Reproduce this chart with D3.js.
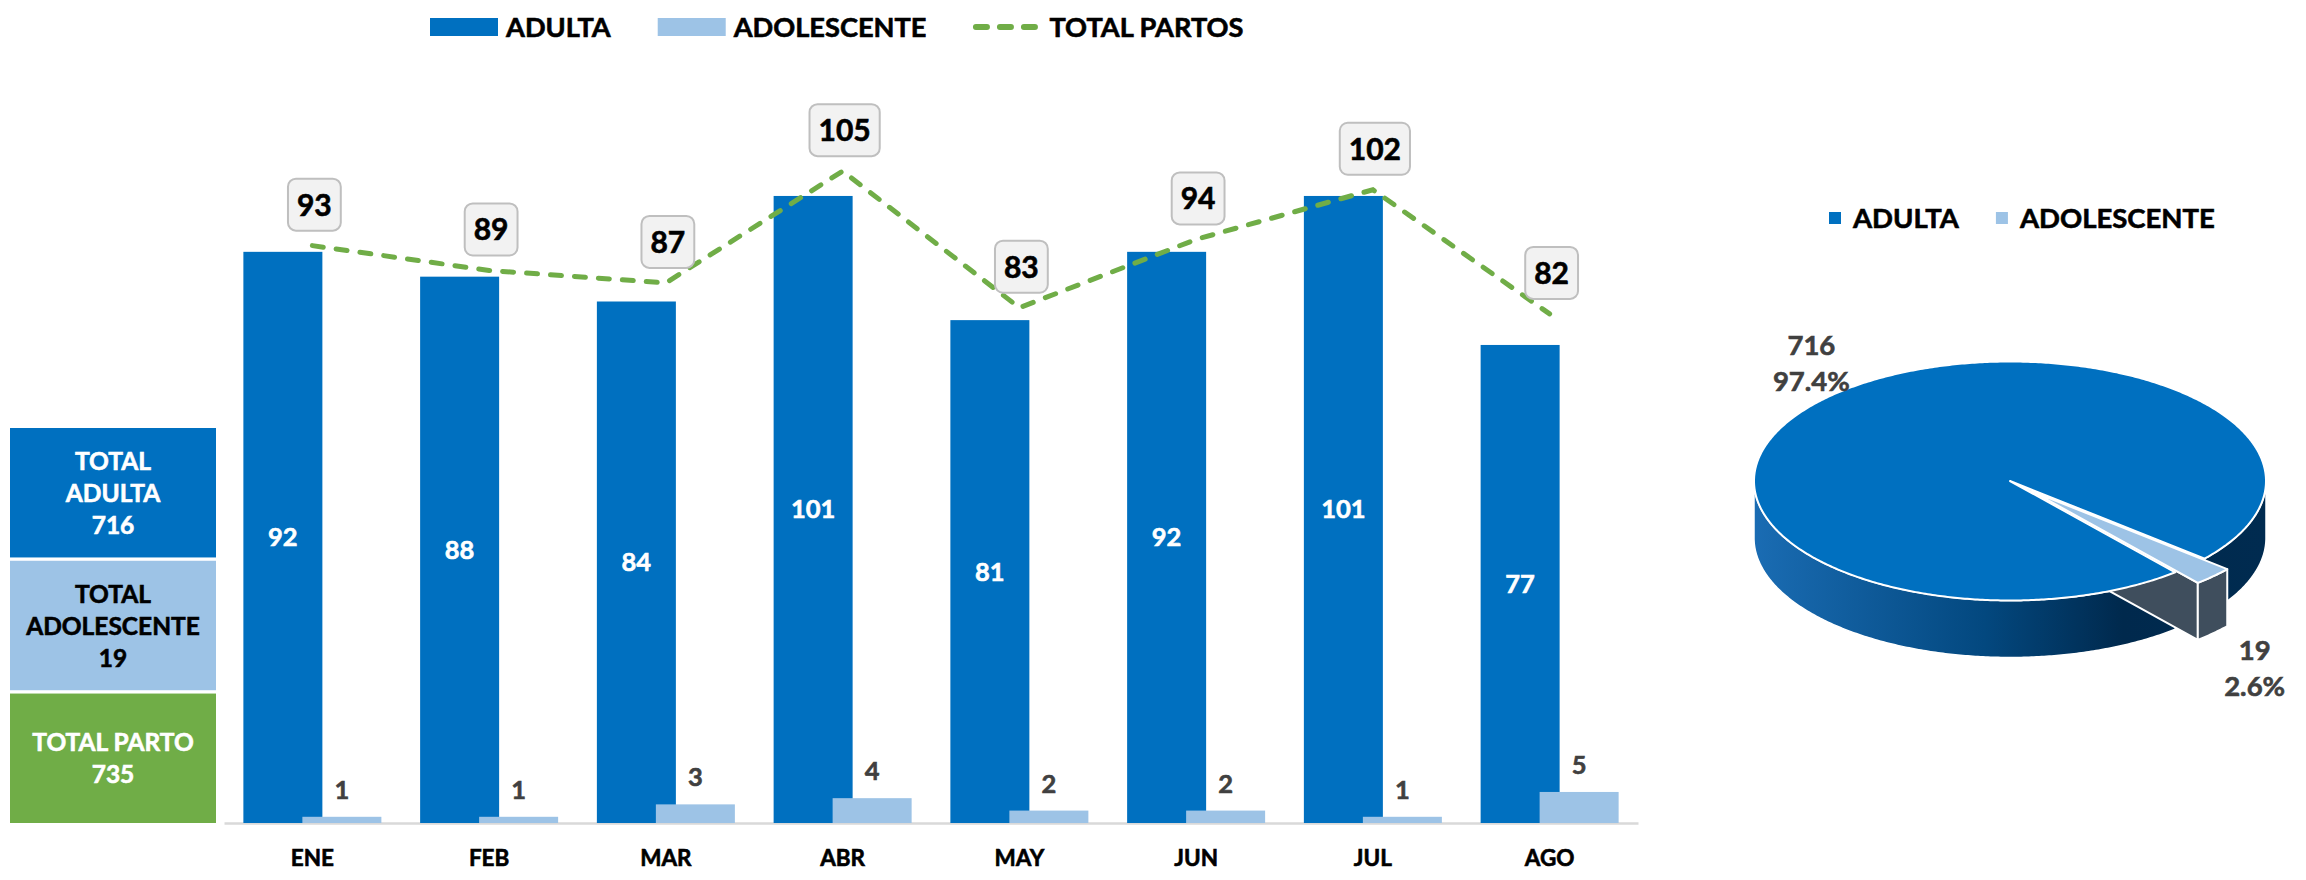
<!DOCTYPE html>
<html>
<head>
<meta charset="utf-8">
<script src="https://cdn.jsdelivr.net/npm/d3@7"></script>
<style>
  body { margin: 0; background: #fff; }
  text { font-family: Lato, "Open Sans", sans-serif; font-weight: 700; paint-order: stroke; stroke-width: 0.6px; }
</style>
</head>
<body>
<div id="chart"></div>
<script>
// === Data ===
const months = ["ENE", "FEB", "MAR", "ABR", "MAY", "JUN", "JUL", "AGO"];
const adulta = [92, 88, 84, 101, 81, 92, 101, 77];
const adolescente = [1, 1, 3, 4, 2, 2, 1, 5];
const totalPartos = [93, 89, 87, 105, 83, 94, 102, 82];
const seriesNames = ["ADULTA", "ADOLESCENTE", "TOTAL PARTOS"];

const summaryLabels = [["TOTAL", "ADULTA"], ["TOTAL", "ADOLESCENTE"], ["TOTAL PARTO"]];
const summaryValues = [716, 19, 735];

const pieNames = ["ADULTA", "ADOLESCENTE"];
const pieValues = [716, 19];

const DARK = "#0070c0", LIGHT = "#9dc3e6", GREEN = "#70ad47";

const W = 2306, H = 880;
const svg = d3.select("#chart").append("svg")
  .attr("width", W).attr("height", H)
  .style("display", "block");
svg.append("rect").attr("width", W).attr("height", H).attr("fill", "#fff");

// small helper: text with a hairline stroke in its own colour (heavier look)
const txt = (sel, color) => sel.attr("fill", color).attr("stroke", color);

// === Scales ===
const x = d3.scaleBand().domain(months).range([224, 1638]);
const y = d3.scaleLinear().domain([0, 120]).range([823, 78]);
const cxOf = m => x(m) + x.bandwidth() / 2;
const barW = 79;

// === Summary boxes (left) ===
const boxY = d3.scaleBand().domain(d3.range(summaryValues.length)).range([428, 823]).paddingInner(0.025);
const boxFill = [DARK, LIGHT, GREEN];
const boxText = ["#fff", "#000", "#fff"];
const boxes = svg.append("g").selectAll("g").data(summaryValues).join("g");
boxes.append("rect")
  .attr("x", 10).attr("width", 206)
  .attr("y", (d, i) => boxY(i)).attr("height", boxY.bandwidth())
  .attr("fill", (d, i) => boxFill[i]);
boxes.each(function(v, i) {
  const lines = summaryLabels[i].concat([String(v)]);
  const mid = boxY(i) + boxY.bandwidth() / 2;
  d3.select(this).selectAll("text").data(lines).join("text")
    .attr("x", 113)
    .attr("y", (t, j) => mid + (j - (lines.length - 1) / 2) * 32 + 9)
    .attr("text-anchor", "middle")
    .attr("font-size", 24.5)
    .call(txt, boxText[i])
    .text(t => t);
});

// === Axis ===
const axisG = svg.append("g")
  .attr("transform", `translate(0,${y(0)})`)
  .call(d3.axisBottom(x).tickSize(0).tickPadding(27));
axisG.select(".domain").attr("stroke", "#d9d9d9").attr("stroke-width", 2.5);
axisG.selectAll("text")
  .attr("font-size", 22.5)
  .attr("font-family", "Lato, sans-serif").attr("font-weight", 700)
  .call(txt, "#000");

// === Bars ===
const rows = months.map((m, i) => ({ m, a: adulta[i], b: adolescente[i], t: totalPartos[i] }));

svg.append("g").selectAll("rect").data(rows).join("rect")
  .attr("x", d => cxOf(d.m) - 69).attr("width", barW)
  .attr("y", d => y(d.a)).attr("height", d => y(0) - y(d.a))
  .attr("fill", DARK);

svg.append("g").selectAll("rect").data(rows).join("rect")
  .attr("x", d => cxOf(d.m) - 10).attr("width", barW)
  .attr("y", d => y(d.b)).attr("height", d => y(0) - y(d.b))
  .attr("fill", LIGHT);

svg.append("g").selectAll("text").data(rows).join("text")
  .attr("x", d => cxOf(d.m) - 69 + barW / 2)
  .attr("y", d => (y(d.a) + y(0)) / 2 + 9)
  .attr("text-anchor", "middle").attr("font-size", 25.5)
  .call(txt, "#fff")
  .text(d => d.a);

svg.append("g").selectAll("text").data(rows).join("text")
  .attr("x", d => cxOf(d.m) - 10 + barW / 2)
  .attr("y", d => y(d.b) - 18)
  .attr("text-anchor", "middle").attr("font-size", 25.5)
  .call(txt, "#404040")
  .text(d => d.b);

// === Total line ===
const line = d3.line().x(d => cxOf(d.m)).y(d => y(d.t));
svg.append("path").datum(rows)
  .attr("d", line)
  .attr("fill", "none").attr("stroke", GREEN).attr("stroke-width", 5)
  .attr("stroke-dasharray", "11 13").attr("stroke-linecap", "round");

const tags = svg.append("g").selectAll("g").data(rows).join("g")
  .attr("transform", d => `translate(${cxOf(d.m) + 2},${y(d.t) - 41})`);
tags.append("text")
  .attr("text-anchor", "middle").attr("y", 11)
  .attr("font-size", 30)
  .call(txt, "#000")
  .text(d => d.t);
tags.each(function() {
  const g = d3.select(this);
  const tw = g.select("text").node().getComputedTextLength();
  g.insert("rect", "text")
    .attr("x", -tw / 2 - 9).attr("width", tw + 18)
    .attr("y", -26).attr("height", 52)
    .attr("rx", 8)
    .attr("fill", "#f2f2f2").attr("stroke", "#bfbfbf").attr("stroke-width", 2);
});

// === Top legend ===
const leg = svg.append("g");
let lx = 430;
seriesNames.forEach((name, i) => {
  if (i < 2) {
    leg.append("rect").attr("x", lx).attr("y", 18).attr("width", 68).attr("height", 18)
      .attr("fill", i === 0 ? DARK : LIGHT);
  } else {
    leg.append("line").attr("x1", lx + 2.5).attr("x2", lx + 62).attr("y1", 27).attr("y2", 27)
      .attr("stroke", GREEN).attr("stroke-width", 6)
      .attr("stroke-dasharray", "11 13").attr("stroke-linecap", "round");
  }
  const t = leg.append("text").attr("x", lx + 76).attr("y", 36.5)
    .attr("font-size", 27.2).call(txt, "#000").text(name);
  lx += 76 + t.node().getComputedTextLength() + 47;
});

// === 3D pie ===
const pc = { cx: 2010, cy: 481, rx: 256, ry: 119.5, depth: 57 };
const startA = 139.8 * Math.PI / 180;
const pie = d3.pie().sort(null).startAngle(startA).endAngle(startA + 2 * Math.PI);
const arcs = pie(pieValues);
const explode = [0, 0.125];

const P = (a, off, dz, k = 1) => [pc.cx + off[0] + pc.rx * k * Math.sin(a), pc.cy + off[1] - pc.ry * k * Math.cos(a) + dz];
const offOf = (d, i) => {
  const m = (d.startAngle + d.endAngle) / 2;
  return [pc.rx * explode[i] * Math.sin(m), -pc.ry * explode[i] * Math.cos(m)];
};
const arcPts = (a0, a1, off, dz) => {
  const n = Math.max(2, Math.ceil((a1 - a0) / 0.01));
  return d3.range(n + 1).map(j => P(a0 + (a1 - a0) * j / n, off, dz));
};
const poly = pts => "M" + pts.map(p => p.join(",")).join("L") + "Z";
const frontRanges = (a0, a1) => {
  const out = [];
  for (let k = -2; k <= 4; k += 2) {
    const lo = Math.max(a0, Math.PI / 2 + k * Math.PI), hi = Math.min(a1, 1.5 * Math.PI + k * Math.PI);
    if (hi > lo) out.push([lo, hi]);
  }
  return out;
};

const defs = svg.append("defs");
const grad = defs.append("linearGradient").attr("id", "wallGrad")
  .attr("gradientUnits", "userSpaceOnUse")
  .attr("x1", pc.cx - pc.rx).attr("x2", pc.cx + pc.rx).attr("y1", 0).attr("y2", 0);
[[0, "#1a6cb3"], [0.45, "#03487f"], [0.72, "#00294d"], [1, "#002b50"]].forEach(([o, c]) =>
  grad.append("stop").attr("offset", o).attr("stop-color", c));

const pieG = svg.append("g").attr("stroke", "#fff").attr("stroke-linejoin", "round");
const [dA, dB] = arcs;
const offA = offOf(dA, 0), offB = offOf(dB, 1);

// walls of ADULTA
frontRanges(dA.startAngle, dA.endAngle).forEach(([a0, a1]) => {
  pieG.append("path")
    .attr("d", poly(arcPts(a0, a1, offA, 0).concat(arcPts(a0, a1, offA, pc.depth).reverse())))
    .attr("fill", "url(#wallGrad)").attr("stroke-width", 1.5);
});
// cut face of ADULTA inside the gap
{
  const a = dA.endAngle, c0 = P(0, offA, 0, 0), r0 = P(a, offA, 0);
  pieG.append("path")
    .attr("d", poly([c0, r0, [r0[0], r0[1] + pc.depth], [c0[0], c0[1] + pc.depth]]))
    .attr("fill", "#e9eff6").attr("stroke-width", 1.5);
}
// ADOLESCENTE cut face + wall
{
  const a = dB.endAngle, c0 = P(0, offB, 0, 0), r0 = P(a, offB, 0);
  pieG.append("path")
    .attr("d", poly([c0, r0, [r0[0], r0[1] + pc.depth], [c0[0], c0[1] + pc.depth]]))
    .attr("fill", "#3f4e5d").attr("stroke-width", 2);
  frontRanges(dB.startAngle, dB.endAngle).forEach(([a0, a1]) => {
    pieG.append("path")
      .attr("d", poly(arcPts(a0, a1, offB, 0).concat(arcPts(a0, a1, offB, pc.depth).reverse())))
      .attr("fill", "#3f4e5d").attr("stroke-width", 2);
  });
}
// tops
pieG.append("path")
  .attr("d", poly([P(0, offA, 0, 0)].concat(arcPts(dA.startAngle, dA.endAngle, offA, 0))))
  .attr("fill", DARK).attr("stroke-width", 2);
pieG.append("path")
  .attr("d", poly([P(0, offB, 0, 0)].concat(arcPts(dB.startAngle, dB.endAngle, offB, 0))))
  .attr("fill", LIGHT).attr("stroke-width", 2);

// pie labels
const pct = d3.format(".1%");
const total = d3.sum(pieValues);
const labK = [[1.1, 1.38, 0], [1.23, 1.42, pc.depth]];
arcs.forEach((d, i) => {
  const m = (d.startAngle + d.endAngle) / 2;
  const off = i === 0 ? offA : offB;
  const lxp = pc.cx + off[0] + pc.rx * labK[i][0] * Math.sin(m);
  const lyp = pc.cy + off[1] - pc.ry * labK[i][1] * Math.cos(m) + labK[i][2];
  svg.append("text").attr("x", lxp).attr("y", lyp - 9)
    .attr("text-anchor", "middle").attr("font-size", 27.5).call(txt, "#404040")
    .text(d.data);
  svg.append("text").attr("x", lxp).attr("y", lyp + 27)
    .attr("text-anchor", "middle").attr("font-size", 27.5).call(txt, "#404040")
    .text(pct(d.data / total));
});

// pie legend
const pleg = svg.append("g");
let px = 1829;
pieNames.forEach((name, i) => {
  pleg.append("rect").attr("x", px).attr("y", 212).attr("width", 12).attr("height", 12)
    .attr("fill", i === 0 ? DARK : LIGHT);
  const t = pleg.append("text").attr("x", px + 24).attr("y", 227.5)
    .attr("font-size", 27.5).call(txt, "#000").text(name);
  px += 24 + t.node().getComputedTextLength() + 37;
});
</script>
</body>
</html>
